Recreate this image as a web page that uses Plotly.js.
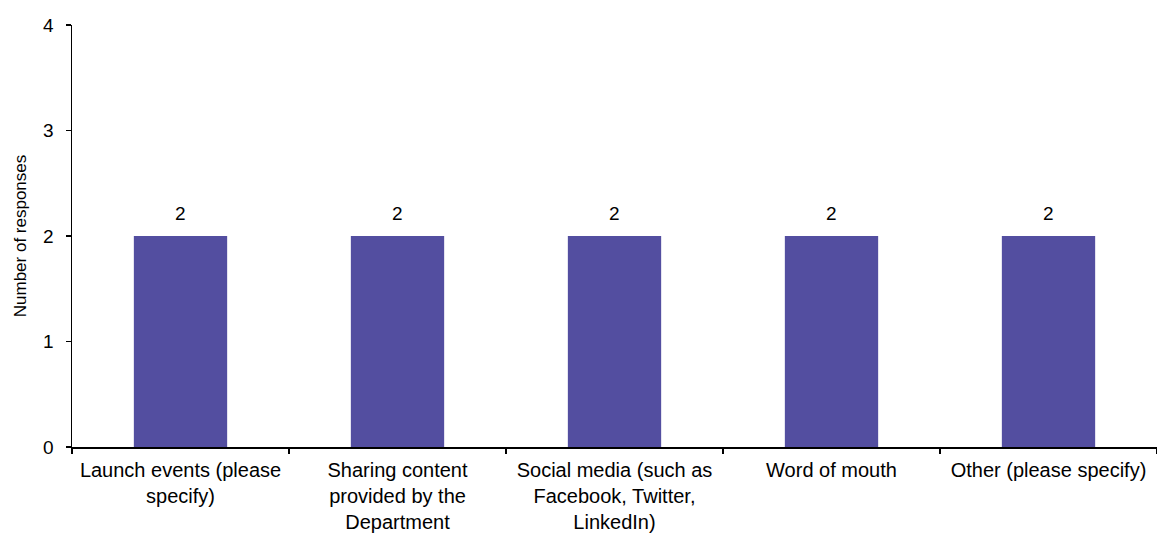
<!DOCTYPE html>
<html>
<head>
<meta charset="utf-8">
<script src="https://cdn.plot.ly/plotly-3.0.1.min.js"></script>
<style>html,body{margin:0;padding:0;background:#fff;}#chart{width:1157px;height:533px;}</style>
</head>
<body>
<div id="chart"></div>
<script>
const categories = [
  "Launch events (please<br>specify)",
  "Sharing content<br>provided by the<br>Department",
  "Social media (such as<br>Facebook, Twitter,<br>LinkedIn)",
  "Word of mouth",
  "Other (please specify)"
];
const responses = [2, 2, 2, 2, 2];
const yTickVals = [0, 1, 2, 3, 4];

const FONT = "Liberation Sans, Arial, sans-serif";

const trace = {
  type: "bar",
  x: categories,
  y: responses,
  marker: {color: "#534EA0"},
  width: 0.43,
  hoverinfo: "none"
};

const labels = categories.map((c, i) => ({
  x: c, y: responses[i], xref: "x", yref: "y",
  text: String(responses[i]),
  showarrow: false, yanchor: "bottom", yshift: 10,
  font: {family: FONT, size: 19, color: "#000"}
}));

const layout = {
  width: 1157, height: 533,
  margin: {l: 72, r: 0, t: 25, b: 86},
  paper_bgcolor: "#fff", plot_bgcolor: "#fff",
  font: {family: FONT, size: 19, color: "#000"},
  showlegend: false,
  annotations: labels,
  xaxis: {
    showline: true, linecolor: "#000", linewidth: 1.5,
    ticks: "outside", ticklen: 5, tickcolor: "#000", tickwidth: 1.5,
    tickson: "boundaries",
    showgrid: false, zeroline: false,
    tickfont: {family: FONT, size: 20},
    ticklabelstandoff: 4,
    automargin: false
  },
  yaxis: {
    range: [0, 4],
    tickvals: yTickVals,
    showline: true, linecolor: "#000", linewidth: 1.5,
    ticks: "outside", ticklen: 5, tickcolor: "#000", tickwidth: 1.5,
    showgrid: false, zeroline: false,
    tickfont: {family: FONT, size: 19},
    ticklabelstandoff: 8,
    title: {text: "Number of responses", font: {family: FONT, size: 17}, standoff: 12},
    automargin: false
  }
};

Plotly.newPlot("chart", [trace], layout, {staticPlot: true, displayModeBar: false});
</script>
</body>
</html>
